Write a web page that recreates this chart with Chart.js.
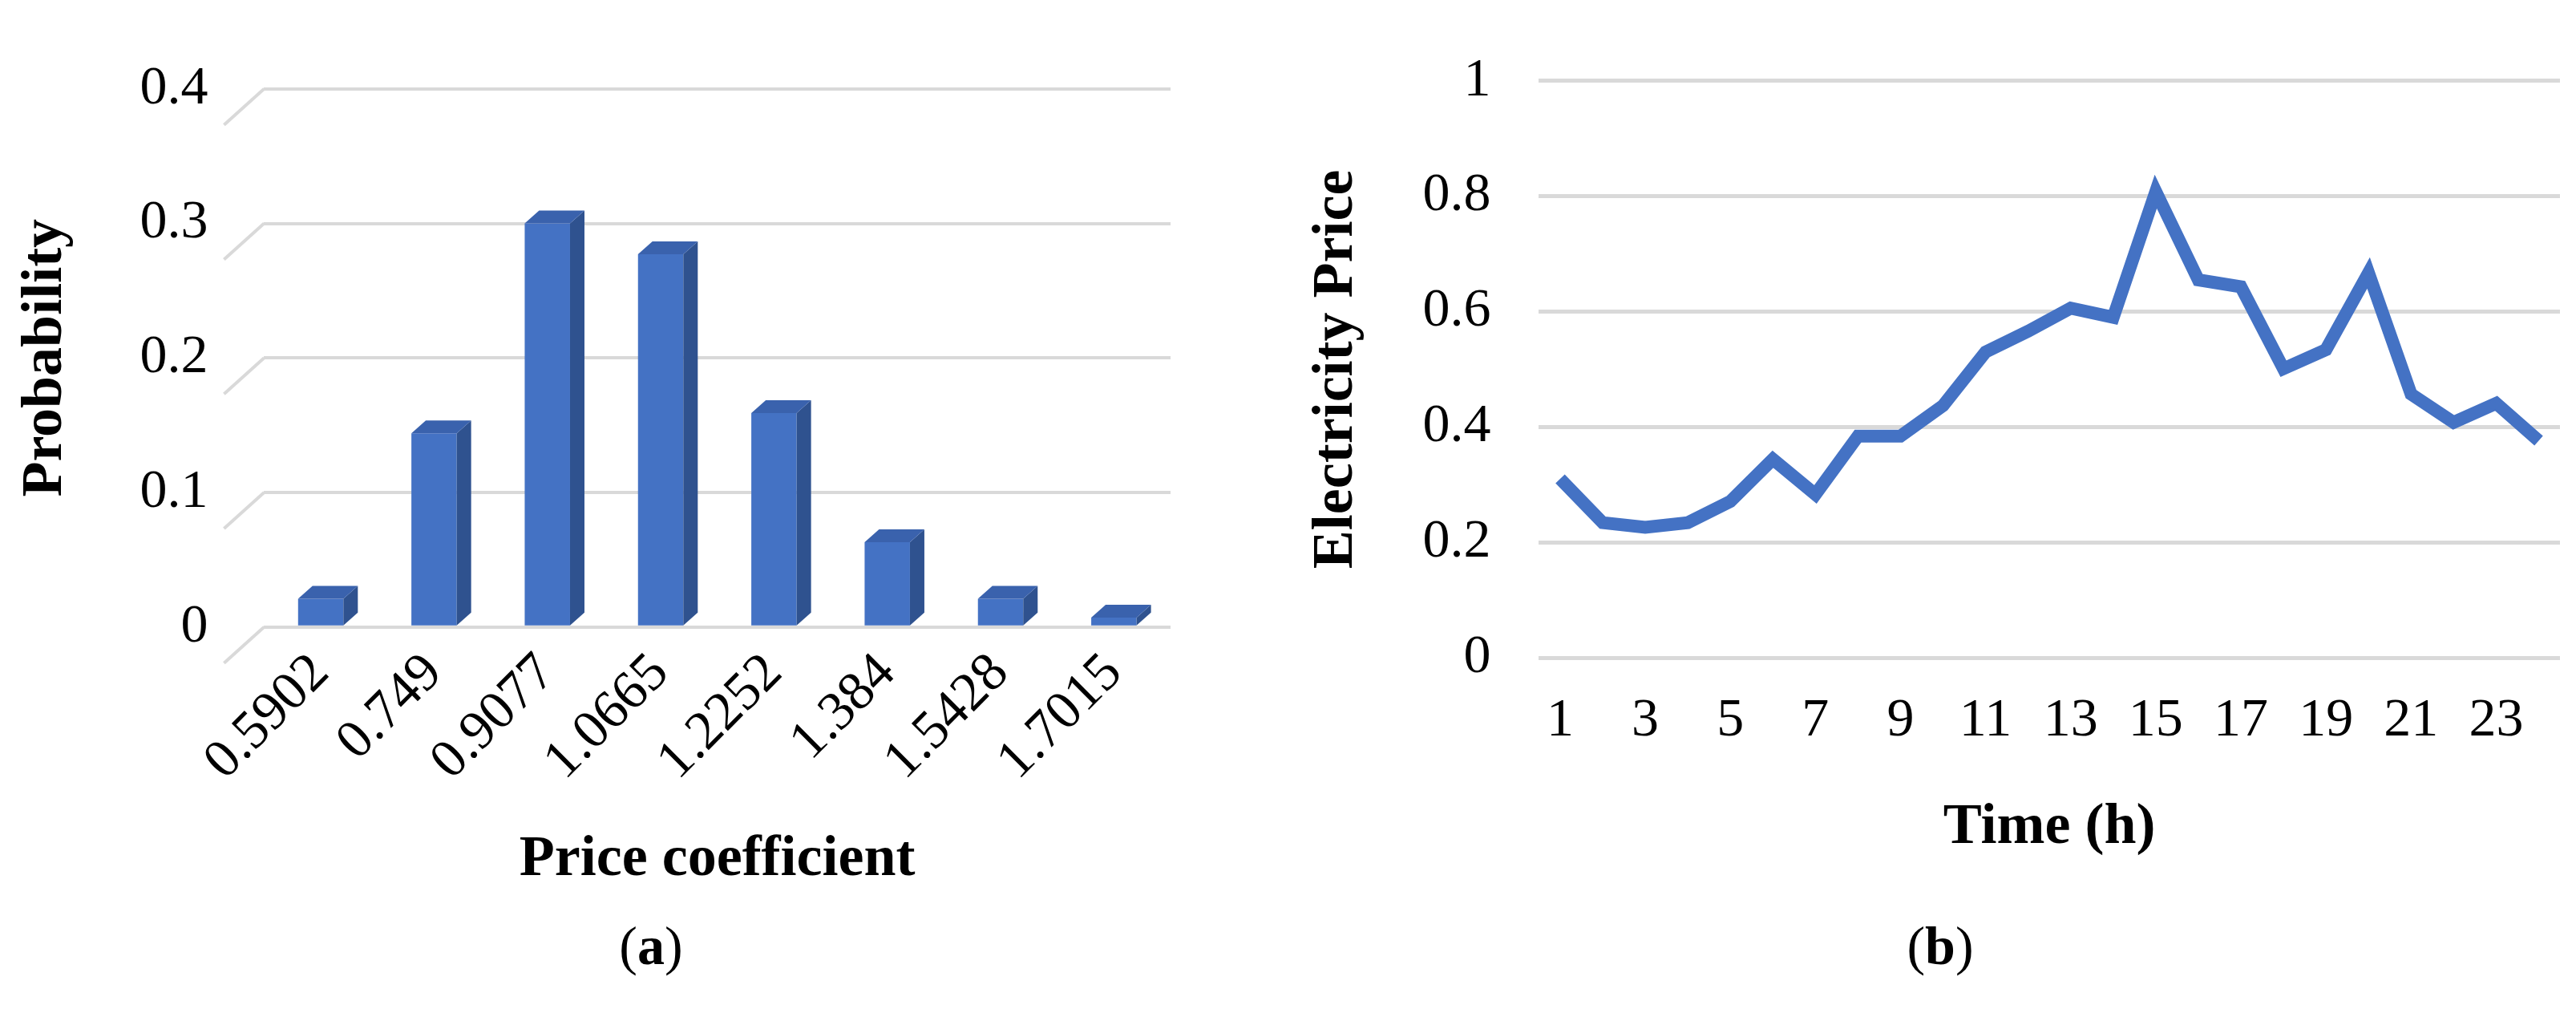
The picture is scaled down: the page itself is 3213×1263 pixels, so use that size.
<!DOCTYPE html>
<html><head><meta charset="utf-8">
<script src="https://cdn.jsdelivr.net/npm/chart.js@4.4.0/dist/chart.umd.min.js"></script>
<style>
body{margin:0;width:3213px;height:1263px;background:#fff;position:relative;overflow:hidden;font-family:"Liberation Serif",serif}
#ca{position:absolute;left:0;top:0}
#cb{position:absolute;left:1620px;top:0}
.cap{position:absolute;top:1140px;font-size:68px;width:240px;text-align:center}
</style></head><body>
<canvas id="ca" width="1520" height="1120"></canvas>
<canvas id="cb" width="1593" height="1080"></canvas>
<div class="cap" style="left:692px">(<b>a</b>)</div>
<div class="cap" style="left:2300px">(<b>b</b>)</div>
<script>
const coefficients = ['0.5902', '0.749', '0.9077', '1.0665', '1.2252', '1.384', '1.5428', '1.7015'];
const probability = [0.021, 0.144, 0.300, 0.277, 0.159, 0.063, 0.021, 0.007];
const hours = ['1','2','3','4','5','6','7','8','9','10','11','12','13','14','15','16','17','18','19','20','21','22','23','24'];
const price = [0.310, 0.234, 0.226, 0.234, 0.271, 0.344, 0.283, 0.384, 0.384, 0.437, 0.530, 0.566,
               0.606, 0.590, 0.808, 0.655, 0.643, 0.501, 0.534, 0.667, 0.457, 0.408, 0.441, 0.376];

const font = {family: '"Liberation Serif", serif', size: 68};
const titleFont = {family: '"Liberation Serif", serif', size: 72, weight: 'bold'};
const dx = 18, dy = 16;

// fake 3D look: side and top faces of the bars, slanted gridline ends
const bar3d = {
  id: 'bar3d',
  beforeDatasetsDraw(chart) {
    const c = chart.ctx, y = chart.scales.y, a = chart.chartArea;
    c.save();
    c.strokeStyle = '#d9d9d9'; c.lineWidth = 4;
    y.ticks.forEach(t => {
      const py = y.getPixelForValue(t.value);
      c.beginPath(); c.moveTo(a.left - 50, py + 45); c.lineTo(a.left, py); c.stroke();
    });
    c.restore();
  },
  afterDatasetsDraw(chart) {
    const c = chart.ctx;
    c.save();
    chart.getDatasetMeta(0).data.forEach(b => {
      const l = b.x - b.width / 2, r = b.x + b.width / 2, t = b.y, bt = b.base;
      c.fillStyle = '#2f528f';
      c.beginPath(); c.moveTo(r, t); c.lineTo(r + dx, t - dy); c.lineTo(r + dx, bt - dy); c.lineTo(r, bt); c.fill();
      c.fillStyle = '#3a62ad';
      c.beginPath(); c.moveTo(l, t); c.lineTo(l + dx, t - dy); c.lineTo(r + dx, t - dy); c.lineTo(r, t); c.fill();
    });
    c.restore();
  }
};

new Chart(document.getElementById('ca'), {
  type: 'bar',
  data: {labels: coefficients, datasets: [{data: probability, backgroundColor: '#4472c4', categoryPercentage: 0.8, barPercentage: 0.5}]},
  options: {
    responsive: false, animation: false,
    layout: {padding: {top: 70, right: 60, left: 10}},
    plugins: {legend: {display: false}, tooltip: {enabled: false}},
    scales: {
      x: {grid: {display: false}, border: {display: false},
          ticks: {font: font, color: '#000', maxRotation: 45, minRotation: 45, padding: 10},
          title: {display: true, text: 'Price coefficient', font: titleFont, color: '#000', padding: {top: 30}}},
      y: {min: 0, max: 0.4, ticks: {stepSize: 0.1, font: font, color: '#000', padding: 70},
          grid: {color: '#d9d9d9', lineWidth: 4, drawTicks: false}, border: {display: false},
          title: {display: true, text: 'Probability', font: titleFont, color: '#000'}},
    }
  },
  plugins: [bar3d]
});

new Chart(document.getElementById('cb'), {
  type: 'line',
  data: {labels: hours, datasets: [{data: price, borderColor: '#4472c4', borderWidth: 16, pointRadius: 0, tension: 0}]},
  options: {
    responsive: false, animation: false,
    layout: {padding: {top: 60, right: 20}},
    plugins: {legend: {display: false}, tooltip: {enabled: false}},
    scales: {
      x: {grid: {display: false}, border: {display: false}, offset: true,
          ticks: {font: font, color: '#000', autoSkip: false, maxRotation: 0, padding: 30,
                  callback: (v, i) => i % 2 === 0 ? hours[i] : ''},
          title: {display: true, text: 'Time (h)', font: titleFont, color: '#000', padding: {top: 20}}},
      y: {min: 0, max: 1, ticks: {stepSize: 0.2, font: font, color: '#000', padding: 60,
                  callback: v => v === 0 || v === 1 ? String(v) : v.toFixed(1)},
          grid: {color: '#d9d9d9', lineWidth: 5, drawTicks: false}, border: {display: false},
          title: {display: true, text: 'Electricity Price', font: titleFont, color: '#000'}},
    }
  }
});
</script>
</body></html>
